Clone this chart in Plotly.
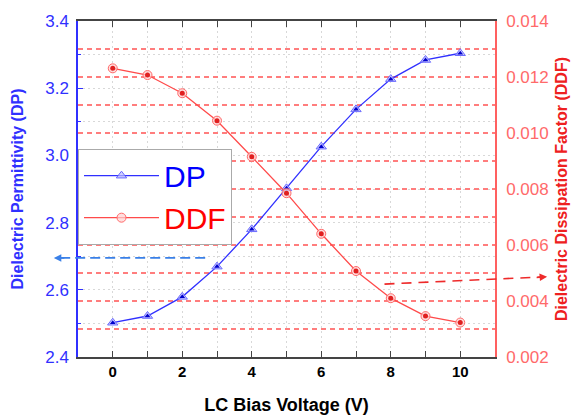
import plotly.graph_objects as go

voltage = [0, 1, 2, 3, 4, 5, 6, 7, 8, 9, 10]
dp = [2.502, 2.522, 2.579, 2.669, 2.780, 2.902, 3.026, 3.137, 3.227, 3.284, 3.304]
ddf = [0.01231, 0.01207, 0.01142, 0.01044, 0.00915, 0.00785, 0.00640, 0.00507, 0.00410, 0.00346, 0.00323]

# right axis ticks: gridline every 0.001, label every 0.002
ddf_ticks = [0.002, 0.003, 0.004, 0.005, 0.006, 0.007, 0.008, 0.009, 0.010, 0.011, 0.012, 0.013, 0.014]
ddf_ticktext = ["0.002", "", "0.004", "", "0.006", "", "0.008", "", "0.010", "", "0.012", "", "0.014"]

FONT = "Arial, Liberation Sans, sans-serif"
BLUE = "#3030ff"
RED = "#ff4a4a"

fig = go.Figure()

fig.add_trace(go.Scatter(
    x=voltage, y=dp, name="<span style='color:#0000ff'>DP</span>", mode="lines+markers",
    line=dict(color=BLUE, width=1.3),
    marker=dict(symbol="triangle-up", size=9, color="rgba(190,190,255,0.7)",
                line=dict(color="#6a6aff", width=1)),
))
fig.add_trace(go.Scatter(
    x=voltage, y=dp, mode="markers", showlegend=False, hoverinfo="skip",
    marker=dict(symbol="triangle-up", size=5, color="#0000cc"),
))
fig.add_trace(go.Scatter(
    x=voltage, y=ddf, name="<span style='color:#ff0000'>DDF</span>", mode="lines+markers", yaxis="y2",
    line=dict(color=RED, width=1.3),
    marker=dict(symbol="circle", size=9, color="rgba(255,210,210,0.7)",
                line=dict(color="#ff6a6a", width=1)),
))
fig.add_trace(go.Scatter(
    x=voltage, y=ddf, mode="markers", yaxis="y2", showlegend=False, hoverinfo="skip",
    marker=dict(symbol="circle", size=5, color="#e02020"),
))

# dashed arrows pointing at each axis
fig.add_shape(type="line", xref="paper", yref="paper", x0=0.305, y0=0.295, x1=-0.045, y1=0.295,
              line=dict(color="#3a80e8", width=1.6, dash="10px,5px"))
fig.add_annotation(xref="paper", yref="paper", x=-0.058, y=0.295, ax=12, ay=0, text="",
                   showarrow=True, arrowhead=2, arrowsize=1, arrowwidth=1.5, arrowcolor="#3a80e8")
fig.add_shape(type="line", xref="paper", yref="paper", x0=0.735, y0=0.217, x1=1.11, y1=0.238,
              line=dict(color="#ee2a2a", width=1.6, dash="10px,7px"))
fig.add_annotation(xref="paper", yref="paper", x=1.125, y=0.239, ax=-12, ay=1, text="",
                   showarrow=True, arrowhead=2, arrowsize=1, arrowwidth=1.5, arrowcolor="#ee2a2a")

fig.update_layout(
    width=574, height=410,
    margin=dict(l=70, r=87, t=13, b=61),
    plot_bgcolor="white", paper_bgcolor="white",
    font=dict(family=FONT),
    showlegend=True,
    legend=dict(x=0.0, y=0.62, xanchor="left", yanchor="top",
                bgcolor="white", bordercolor="#aaaaaa", borderwidth=1,
                itemwidth=75,
                font=dict(size=30, family=FONT), tracegroupgap=0),
    xaxis=dict(
        range=[-1, 11], dtick=2, tick0=0,
        showline=True, linecolor="#444444", linewidth=1.5, mirror="allticks",
        ticks="inside", ticklen=6, tickcolor="#444444",
        showgrid=True, gridcolor="#d8d8d8", griddash="2px,3px", gridwidth=1,
        minor=dict(dtick=1, ticks="inside", ticklen=6, tickcolor="#444444",
                   showgrid=True, gridcolor="#d8d8d8", griddash="2px,3px"),
        zeroline=False, automargin=False,
        tickfont=dict(size=15, color="black", family=FONT, weight="bold"),
        title=dict(text="LC Bias Voltage (V)", standoff=20,
                   font=dict(size=18, color="black", family=FONT, weight="bold")),
    ),
    yaxis=dict(
        range=[2.4, 3.4], dtick=0.2, tickformat=".1f",
        showline=True, linecolor=BLUE, linewidth=1.5,
        ticks="inside", ticklen=5, tickcolor=BLUE,
        showgrid=True, gridcolor="#d8d8d8", griddash="2px,3px",
        minor=dict(dtick=0.1, ticks="inside", ticklen=3, tickcolor=BLUE,
                   showgrid=True, gridcolor="#d8d8d8", griddash="2px,3px"),
        zeroline=False, automargin=False,
        ticklabelstandoff=4,
        tickfont=dict(size=17, color=BLUE, family=FONT),
        title=dict(text="Dielectric Permittivity (DP)", standoff=18,
                   font=dict(size=16, color=BLUE, family=FONT, weight="bold")),
    ),
    yaxis2=dict(
        range=[0.002, 0.014], tickmode="array", tickvals=ddf_ticks, ticktext=ddf_ticktext,
        overlaying="y", side="right",
        showline=True, linecolor="#ff6060", linewidth=1.5,
        ticks="",
        showgrid=True, gridcolor="rgb(255,125,125)", griddash="5px,4px", gridwidth=1.5,
        zeroline=False, automargin=False,
        ticklabelstandoff=6,
        tickfont=dict(size=17, color="#ff6a6a", family=FONT),
        title=dict(text="Dielectric Dissipation Factor (DDF)", standoff=8,
                   font=dict(size=16, color="#ee2020", family=FONT, weight="bold")),
    ),
)

fig.write_html("out.html")
